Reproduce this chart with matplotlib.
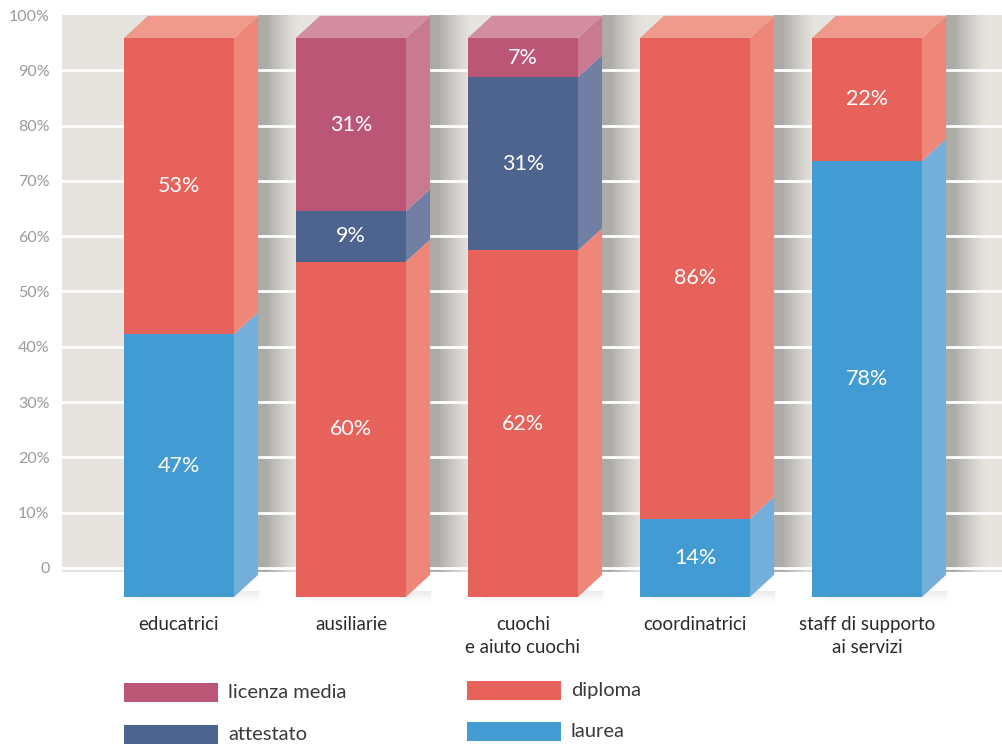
import numpy as np
import matplotlib.pyplot as plt
from matplotlib.patches import Rectangle, Polygon

plt.rcParams['font.family'] = ['Lato', 'DejaVu Sans']

categories = ['educatrici', 'ausiliarie', 'cuochi\ne aiuto cuochi',
              'coordinatrici', 'staff di supporto\nai servizi']
laurea = [47, 0, 0, 14, 78]
diploma = [53, 60, 62, 86, 22]
attestato = [0, 9, 31, 0, 0]
licenza = [0, 31, 7, 0, 0]

series = [
    ('laurea', laurea, '#439bd3', '#74aedb', '#8cbfe3'),
    ('diploma', diploma, '#e8625c', '#ee877a', '#f09a8b'),
    ('attestato', attestato, '#4d648f', '#717fa4', '#8794b5'),
    ('licenza media', licenza, '#bc5677', '#c97990', '#d28da0'),
]

bg = '#e7e4df'
W = 0.64        # front face width
DX = 0.14       # depth offset in x
DY = 4.0        # depth offset in y
BASE = -5.25    # front face bottom
S = 1.011       # front face scale

fig = plt.figure(figsize=(10.03, 7.45), dpi=100)
ax = fig.add_axes([62 / 1003, (745 - 623) / 745, 941 / 1003, 608 / 745])
for sp in ax.spines.values():
    sp.set_visible(False)
ax.patch.set_alpha(0)

# panel and grid
ax.add_patch(Rectangle((-0.68, -0.8), 6, 100.8, color=bg, zorder=0, lw=0))
for g in range(0, 100, 10):
    ax.axhline(g, color='white', lw=2.0, zorder=2)

ax.set_yticks(range(0, 101, 10))
ax.set_yticklabels(['0'] + ['%d%%' % v for v in range(10, 101, 10)])
ax.tick_params(axis='y', length=0, pad=9, labelsize=11.5, labelcolor='#9a9a9a')
ax.set_xticks([])

# shadow to the right of each bar
t = np.linspace(0, 1, 200)
alpha = np.clip(1.25 - 1.25 * t, 0, 1) ** 1.3 * 0.25
shade = np.zeros((1, 200, 4))
shade[..., 3] = alpha
yy = np.linspace(0, 1, 60)
under = np.zeros((60, 1, 4))
under[:, 0, 3] = (1 - yy) ** 2 * 0.09
for i in range(len(categories)):
    xs = i + W / 2 + DX
    ax.imshow(shade, extent=(xs, xs + 0.24, -0.8, 100), aspect='auto',
              zorder=1, interpolation='bilinear')
    # soft shadow under the bar bottom
    ax.imshow(under, extent=(i - W / 2 + 0.08, i + W / 2 + DX, BASE - 2.0, BASE + 1),
              aspect='auto', zorder=1, interpolation='bilinear', origin='upper')

ax.set_xlim(-0.680, 4.791)
ax.set_ylim(-9.95, 100)

# stacked boxes
for i in range(len(categories)):
    xl, xr = i - W / 2, i + W / 2
    cum = 0
    top_color = None
    for name, vals, front, side, top in series:
        v = vals[i]
        if v == 0:
            continue
        y0 = BASE + cum * S
        y1 = BASE + (cum + v) * S
        ax.add_patch(Rectangle((xl, y0), W, y1 - y0, color=front, lw=0, zorder=3))
        ax.add_patch(Polygon([(xr, y0), (xr + DX, y0 + DY), (xr + DX, y1 + DY), (xr, y1)],
                             closed=True, color=side, lw=0, zorder=3))
        ax.text(i, (y0 + y1) / 2, '%d%%' % v, ha='center', va='center',
                color='white', fontsize=15.5, zorder=4)
        cum += v
        top_color = top
    yt = BASE + cum * S
    ax.add_patch(Polygon([(xl, yt), (xr, yt), (xr + DX, yt + DY), (xl + DX, yt + DY)],
                         closed=True, color=top_color, lw=0, zorder=3))
    ax.text(i, -8.6, categories[i], ha='center', va='top', fontsize=13.5,
            color='#2b2b2b', linespacing=1.45)

# legend
lax = fig.add_axes([0, 0, 1, 1], zorder=-1)
lax.set_xlim(0, 1003)
lax.set_ylim(745, 0)
lax.axis('off')
legend_items = [('licenza media', '#bc5677', 124, 683),
                ('attestato', '#4d648f', 124, 725),
                ('diploma', '#e8625c', 467, 681),
                ('laurea', '#439bd3', 467, 722)]
for label, col, x, y in legend_items:
    lax.add_patch(Rectangle((x, y), 94, 19, color=col, lw=0))
    lax.text(x + 104, y + 9.5, label, va='center', ha='left', fontsize=14.5,
             color='#3a3a3a')

fig.savefig('out.png', dpi=100)
